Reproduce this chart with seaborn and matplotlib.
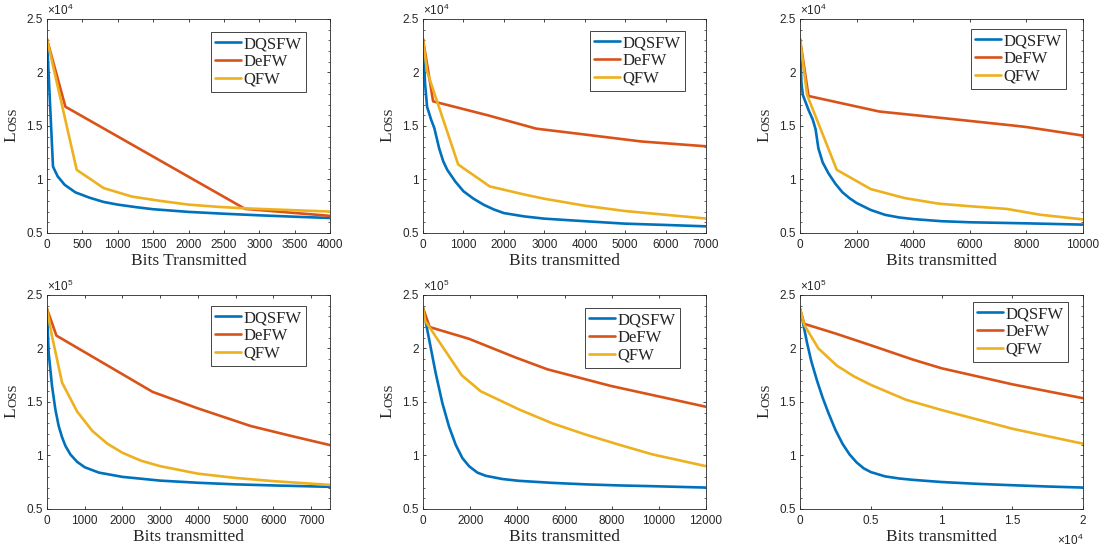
import numpy as np
import pandas as pd
import matplotlib
matplotlib.use("Agg")
import matplotlib.pyplot as plt
import seaborn as sns
from matplotlib.ticker import MultipleLocator, FuncFormatter
from matplotlib.lines import Line2D

# ---------------- data ----------------
methods = ["DQSFW", "DeFW", "QFW"]
colors = ["#0072BD", "#D95319", "#EDB120"]

# Panel 1 (loss x 1e4)
p1_dq_x = [0, 85, 150, 250, 400, 600, 800, 1000, 1250, 1500, 2000, 2500, 3000, 3500, 4000]
p1_dq_y = [2.31, 1.12, 1.03, 0.95, 0.88, 0.83, 0.79, 0.765, 0.742, 0.722, 0.697, 0.68, 0.665, 0.652, 0.640]
p1_de_x = [0, 260, 2800, 4000]
p1_de_y = [2.31, 1.68, 0.725, 0.66]
p1_q_x = [0, 420, 800, 1200, 1600, 2000, 2400, 2800, 3200, 3600, 4000]
p1_q_y = [2.31, 1.09, 0.92, 0.84, 0.80, 0.765, 0.745, 0.73, 0.72, 0.71, 0.70]

# Panel 2 (loss x 1e4)
p2_dq_x = [0, 50, 100, 200, 280, 400, 500, 600, 800, 1000, 1250, 1500, 1750, 2000, 2500, 3000, 4000, 5000, 6000, 7000]
p2_dq_y = [2.31, 1.9, 1.68, 1.56, 1.48, 1.29, 1.17, 1.09, 0.98, 0.89, 0.82, 0.764, 0.72, 0.686, 0.655, 0.634, 0.61, 0.587, 0.575, 0.562]
p2_de_x = [0, 250, 1600, 2800, 4000, 5400, 7000]
p2_de_y = [2.31, 1.73, 1.60, 1.475, 1.42, 1.355, 1.31]
p2_q_x = [0, 100, 870, 1650, 2500, 3000, 4000, 5000, 6000, 7000]
p2_q_y = [2.31, 2.01, 1.14, 0.935, 0.86, 0.82, 0.755, 0.705, 0.67, 0.635]

# Panel 3 (loss x 1e4)
p3_dq_x = [0, 50, 100, 300, 450, 550, 650, 800, 1000, 1250, 1500, 1750, 2000, 2500, 3000, 3500, 4000, 5000, 6000, 8000, 10000]
p3_dq_y = [2.31, 1.9, 1.79, 1.65, 1.56, 1.47, 1.29, 1.16, 1.06, 0.96, 0.88, 0.825, 0.78, 0.715, 0.67, 0.645, 0.63, 0.61, 0.60, 0.59, 0.578]
p3_de_x = [0, 300, 2800, 5000, 7500, 8000, 10000]
p3_de_y = [2.31, 1.78, 1.635, 1.575, 1.505, 1.49, 1.41]
p3_q_x = [0, 250, 1300, 2500, 3700, 4900, 6000, 7300, 8500, 10000]
p3_q_y = [2.31, 1.79, 1.09, 0.91, 0.826, 0.774, 0.75, 0.725, 0.67, 0.627]

# Panel 4 (loss x 1e5)
p4_dq_x = [0, 44, 133, 222, 310, 400, 488, 620, 800, 1000, 1375, 2000, 3000, 4000, 5000, 6000, 7500]
p4_dq_y = [2.37, 1.96, 1.65, 1.43, 1.275, 1.17, 1.09, 1.01, 0.94, 0.89, 0.84, 0.80, 0.765, 0.745, 0.73, 0.72, 0.707]
p4_de_x = [0, 250, 2800, 4000, 5400, 6500, 7500]
p4_de_y = [2.37, 2.12, 1.594, 1.44, 1.275, 1.18, 1.097]
p4_q_x = [0, 130, 400, 800, 1200, 1600, 2000, 2500, 3000, 4000, 5000, 6000, 7500]
p4_q_y = [2.37, 2.12, 1.68, 1.41, 1.23, 1.11, 1.025, 0.95, 0.90, 0.83, 0.79, 0.76, 0.725]

# Panel 5 (loss x 1e5)
p5_dq_x = [0, 255, 537, 820, 1103, 1386, 1669, 1952, 2306, 2660, 3366, 4073, 5487, 6900, 8320, 9730, 12000]
p5_dq_y = [2.38, 2.09, 1.77, 1.49, 1.27, 1.10, 0.976, 0.90, 0.84, 0.81, 0.78, 0.763, 0.744, 0.73, 0.72, 0.713, 0.70]
p5_de_x = [0, 283, 1952, 3932, 5275, 7960, 12000]
p5_de_y = [2.38, 2.20, 2.09, 1.915, 1.805, 1.65, 1.455]
p5_q_x = [0, 85, 1640, 2446, 4073, 5487, 6900, 8320, 9730, 12000]
p5_q_y = [2.38, 2.26, 1.75, 1.60, 1.43, 1.30, 1.195, 1.10, 1.01, 0.90]

# Panel 6 (loss x 1e5)
p6_dq_x = [0, 200, 500, 800, 1200, 1600, 2000, 2500, 3000, 3500, 4000, 4500, 5000, 6000, 7000, 8000, 10000, 12500, 15000, 17500, 20000]
p6_dq_y = [2.37, 2.25, 2.05, 1.88, 1.70, 1.54, 1.40, 1.24, 1.11, 1.01, 0.935, 0.88, 0.845, 0.805, 0.785, 0.772, 0.752, 0.735, 0.722, 0.71, 0.70]
p6_de_x = [0, 300, 2500, 5000, 8000, 10000, 15000, 20000]
p6_de_y = [2.37, 2.23, 2.14, 2.03, 1.895, 1.815, 1.665, 1.535]
p6_q_x = [0, 300, 1300, 2600, 3800, 5000, 7500, 10000, 15000, 20000]
p6_q_y = [2.37, 2.22, 2.0, 1.84, 1.74, 1.66, 1.52, 1.425, 1.25, 1.11]

panels = [
    dict(series=[(p1_dq_x, p1_dq_y), (p1_de_x, p1_de_y), (p1_q_x, p1_q_y)],
         xmax=4000, xstep=500, xlabel="Bits Transmitted", yexp="4", xscale=1, leg=(0.915, 0.939)),
    dict(series=[(p2_dq_x, p2_dq_y), (p2_de_x, p2_de_y), (p2_q_x, p2_q_y)],
         xmax=7000, xstep=1000, xlabel="Bits transmitted", yexp="4", xscale=1, leg=(0.926, 0.944)),
    dict(series=[(p3_dq_x, p3_dq_y), (p3_de_x, p3_de_y), (p3_q_x, p3_q_y)],
         xmax=10000, xstep=2000, xlabel="Bits transmitted", yexp="4", xscale=1, leg=(0.940, 0.953)),
    dict(series=[(p4_dq_x, p4_dq_y), (p4_de_x, p4_de_y), (p4_q_x, p4_q_y)],
         xmax=7500, xstep=1000, xlabel="Bits transmitted", yexp="5", xscale=1, leg=(0.915, 0.949)),
    dict(series=[(p5_dq_x, p5_dq_y), (p5_de_x, p5_de_y), (p5_q_x, p5_q_y)],
         xmax=12000, xstep=2000, xlabel="Bits transmitted", yexp="5", xscale=1, leg=(0.908, 0.939)),
    dict(series=[(p6_dq_x, p6_dq_y), (p6_de_x, p6_de_y), (p6_q_x, p6_q_y)],
         xmax=20000, xstep=5000, xlabel="Bits transmitted", yexp="5", xscale=1e4, leg=(0.947, 0.967)),
]

# ---------------- style ----------------
sns.set_theme(style="white")
plt.rcParams.update({
    "font.family": ["Liberation Sans", "DejaVu Sans"],
    "mathtext.fontset": "custom",
    "mathtext.rm": "Liberation Sans",
    "mathtext.it": "Liberation Sans:italic",
    "axes.edgecolor": "#262626",
    "axes.linewidth": 0.6,
    "xtick.direction": "in",
    "ytick.direction": "in",
    "xtick.top": True,
    "ytick.right": True,
    "xtick.bottom": True,
    "ytick.left": True,
    "xtick.color": "#262626",
    "ytick.color": "#262626",
    "xtick.major.size": 2.5,
    "ytick.major.size": 2.5,
    "ytick.minor.size": 1.5,
    "xtick.major.width": 0.6,
    "ytick.major.width": 0.6,
    "ytick.minor.width": 0.5,
    "xtick.labelsize": 8.5,
    "ytick.labelsize": 8.5,
    "xtick.major.pad": 4.5,
    "ytick.major.pad": 3,
})

fig = plt.figure(figsize=(11.03, 5.46), dpi=100)
lefts = [0.0426, 0.3835, 0.7253]
bottoms = [0.5733, 0.0678]
W, H = 0.2566, 0.392
serif = "Liberation Serif"

for i, p in enumerate(panels):
    r, c = divmod(i, 3)
    ax = fig.add_axes([lefts[c], bottoms[r], W, H])
    rows = []
    for m, (xs, ys) in zip(methods, p["series"]):
        for xv, yv in zip(xs, ys):
            rows.append((xv, yv, m))
    df = pd.DataFrame(rows, columns=["bits", "loss", "method"])
    sns.lineplot(data=df, x="bits", y="loss", hue="method", hue_order=methods,
                 palette=colors, linewidth=1.9, estimator=None, legend=False, ax=ax)
    ax.set_xlim(0, p["xmax"])
    ax.set_ylim(0.5, 2.5)
    ax.xaxis.set_major_locator(MultipleLocator(p["xstep"]))
    ax.yaxis.set_major_locator(MultipleLocator(0.5))
    ax.yaxis.set_minor_locator(MultipleLocator(0.1))
    ax.yaxis.set_major_formatter(FuncFormatter(lambda v, pos: "%g" % v))
    sc = p["xscale"]
    ax.xaxis.set_major_formatter(FuncFormatter(lambda v, pos, sc=sc: "%g" % (v / sc)))
    ax.tick_params(which="both", direction="in", top=True, right=True)
    for s in ax.spines.values():
        s.set_visible(True)
        s.set_color("#262626")
        s.set_linewidth(0.6)
    ax.set_xlabel(p["xlabel"], family=serif, fontsize=12.5, labelpad=1.0, color="#262626")
    ax.set_ylabel("")
    # small-caps "Loss"
    tL = ax.text(-0.097, 0.425, "L", rotation=90, ha="right", va="bottom",
                 transform=ax.transAxes, family=serif, fontsize=12.5, color="#262626")
    ax.annotate("OSS", xy=(1.0, 1.0), xycoords=tL, rotation=90, ha="right", va="bottom",
                family=serif, fontsize=9.3, color="#262626")
    # exponent labels
    ax.text(0.0, 1.006, r"$\times\mathregular{10^{%s}}$" % p["yexp"], transform=ax.transAxes,
            ha="left", va="bottom", fontsize=8.5, color="#262626")
    if sc != 1:
        ax.text(1.0, -0.11, r"$\times\mathregular{10^{4}}$", transform=ax.transAxes,
                ha="right", va="top", fontsize=8.5, color="#262626")
    handles = [Line2D([], [], color=col, lw=1.9) for col in colors]
    leg = ax.legend(handles, methods, loc="upper right", bbox_to_anchor=p["leg"],
                    borderaxespad=0, frameon=True, fancybox=False, shadow=False,
                    prop={"family": serif, "size": 12}, handlelength=1.55,
                    handletextpad=0.15, labelspacing=0.1, borderpad=0.25)
    fr = leg.get_frame()
    fr.set_edgecolor("#262626")
    fr.set_linewidth(0.6)
    fr.set_alpha(1)

fig.savefig("out.png", dpi=100)
